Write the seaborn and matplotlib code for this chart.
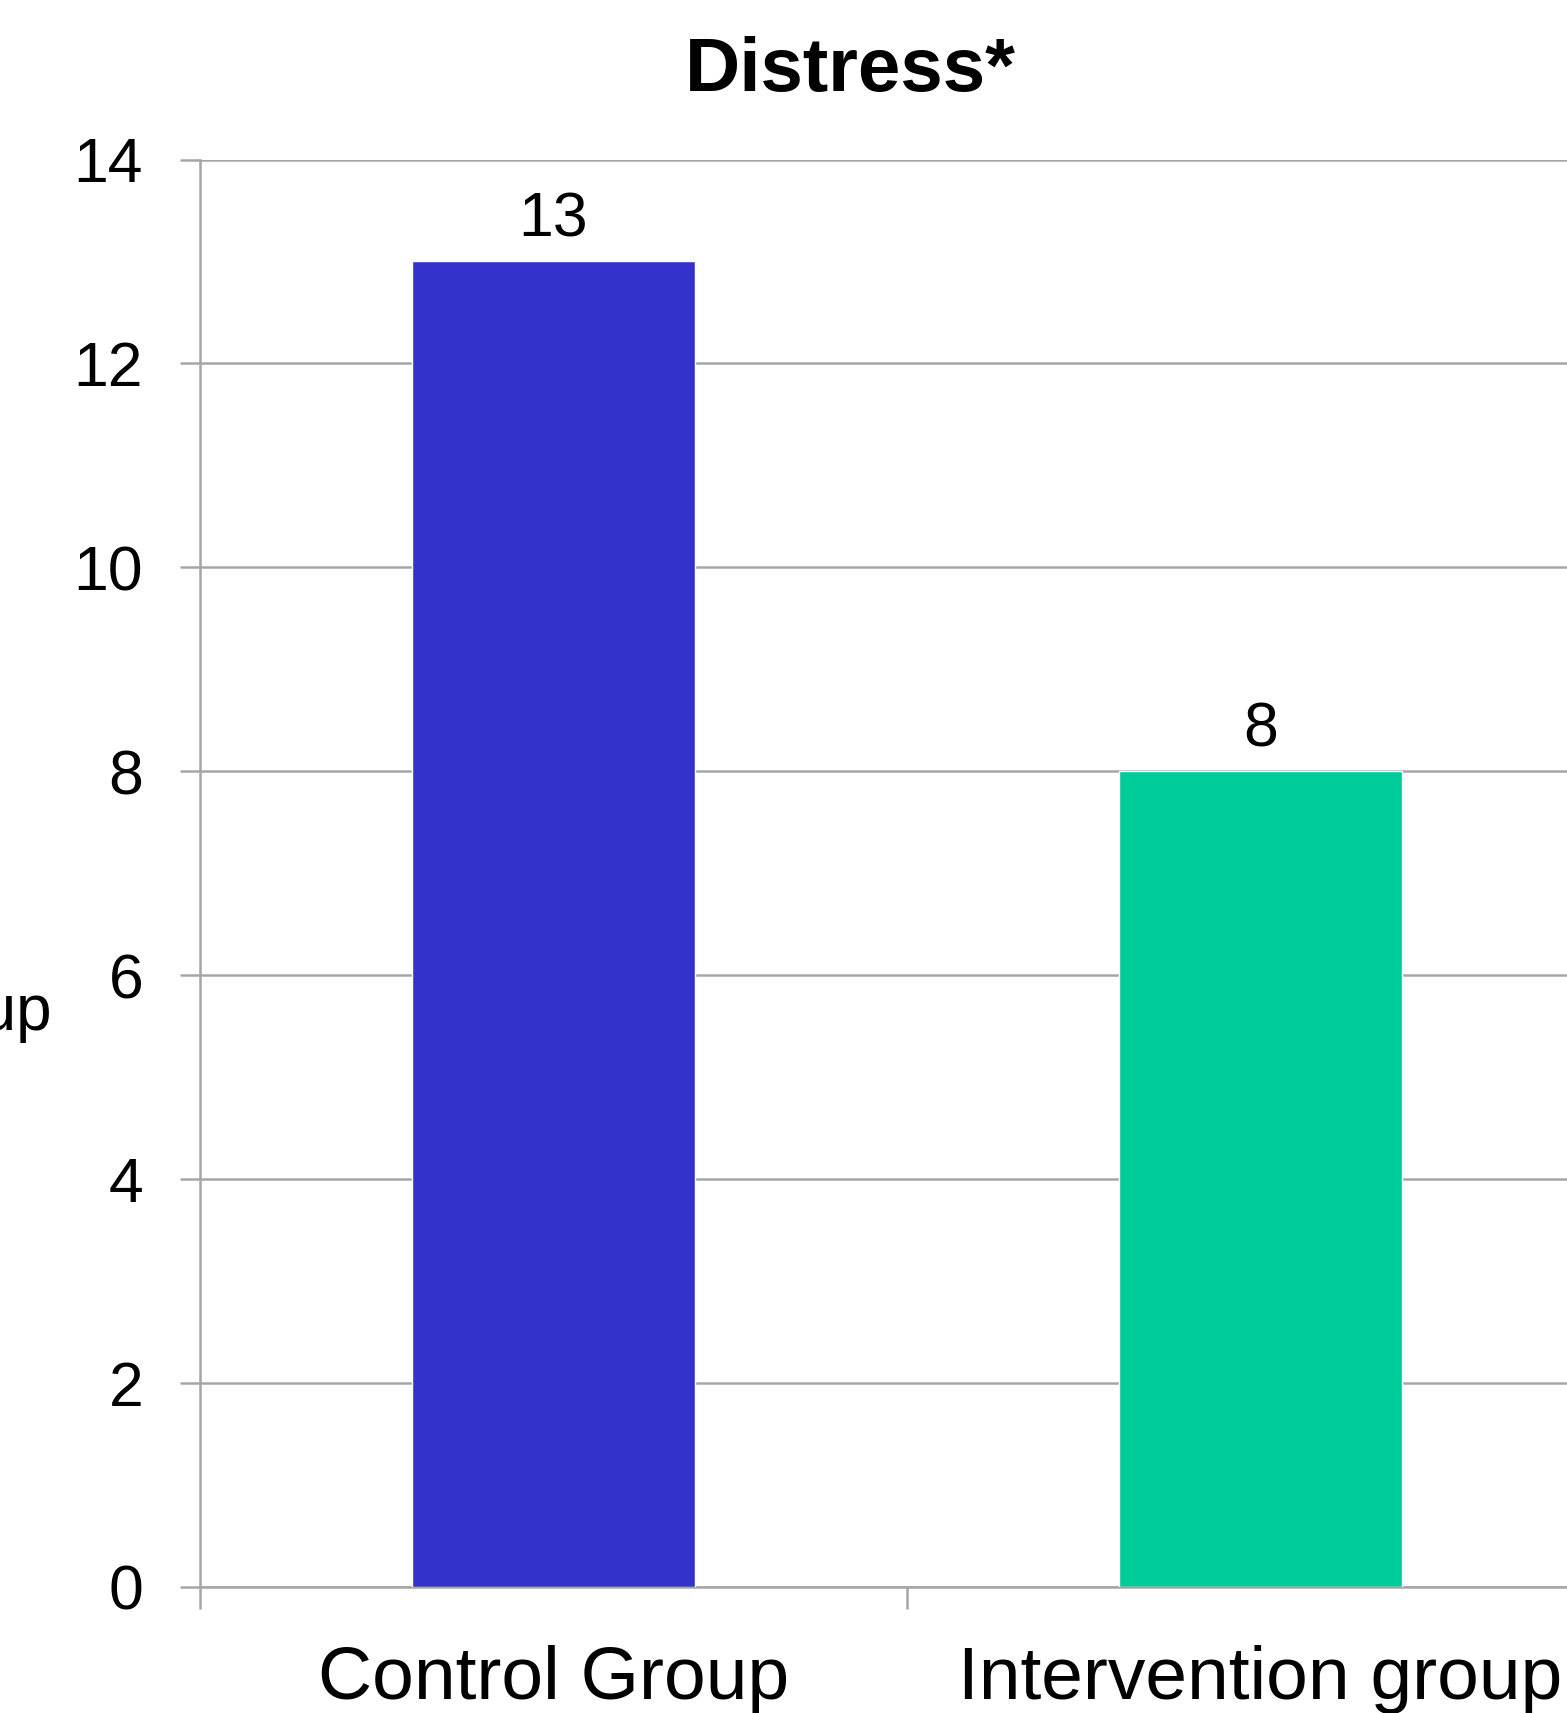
import matplotlib
matplotlib.use("Agg")
import matplotlib.pyplot as plt
import seaborn as sns
import pandas as pd

categories = ["Control Group", "Intervention group"]
values = [13, 8]
bar_colors = ["#3333CC", "#00CC99"]
y_ticks = [0, 2, 4, 6, 8, 10, 12, 14]
title = "Distress*"
side_label = "Number in each group"

sns.set_theme(style="white")
plt.rcParams["font.family"] = ["Liberation Sans", "DejaVu Sans"]

df = pd.DataFrame({"group": categories, "value": values})

fig = plt.figure(figsize=(15.67, 17.13), dpi=100)
ax = fig.add_axes([200 / 1567, 126 / 1713, 1414 / 1567, (1587 - 159.5) / 1713])

sns.barplot(data=df, x="group", y="value", hue="group", palette=bar_colors,
            width=0.4, legend=False, ax=ax, saturation=1, zorder=3)

grid_color = "#A6A6A6"
ax.set_ylim(0, 14)
ax.set_xlim(-0.5, 1.5)
ax.set_yticks(y_ticks)
ax.set_yticklabels([str(t) for t in y_ticks])
ax.yaxis.grid(True, color=grid_color, linewidth=1.8, zorder=0)
ax.set_axisbelow(True)

for s in ["top", "right"]:
    ax.spines[s].set_visible(False)
for s in ["left", "bottom"]:
    ax.spines[s].set_color(grid_color)
    ax.spines[s].set_linewidth(1.8)

ax.tick_params(axis="y", which="major", length=14.4, width=1.8, color=grid_color,
               labelsize=45, pad=26.5, labelcolor="black", left=True)
ax.set_xticks([0, 1])
ax.set_xticks([-0.5, 0.5, 1.5], minor=True)
ax.tick_params(axis="x", which="major", length=0, labelsize=54, pad=42, labelcolor="black")
ax.tick_params(axis="x", which="minor", length=16, width=1.8, color=grid_color, bottom=True)
ax.set_xlabel("")
ax.set_ylabel("")

for cont in ax.containers:
    ax.bar_label(cont, labels=[f"{v:g}" for v in cont.datavalues], padding=8.5,
                 fontsize=45, color="black")

fig.text(850 / 1567, 1 - 91 / 1713, title, ha="center", va="baseline",
         fontsize=55, fontweight="bold", color="black")
fig.text(52 / 1567, 1 - 1030 / 1713, side_label, ha="right", va="baseline",
         fontsize=46, color="black")

fig.savefig("out.png", dpi=100)
